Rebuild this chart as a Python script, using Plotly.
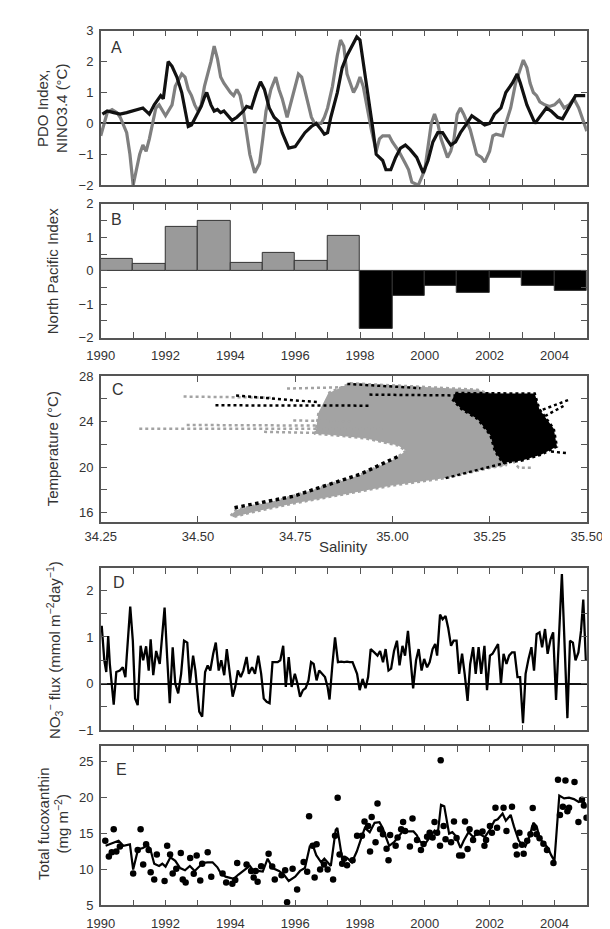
import plotly.graph_objects as go

# ---------------- Panel A: PDO index (black) and NINO3.4 (gray) ----------------
a_black_years = [1990.05,1990.2,1990.4,1990.6,1990.8,1991.0,1991.2,1991.3,1991.4,1991.5,1991.65,1991.85,1991.93,
    1992.0,1992.08,1992.2,1992.35,1992.5,1992.6,1992.7,1992.8,1992.9,1993.0,1993.1,1993.2,1993.27,1993.4,1993.5,
    1993.6,1993.7,1993.8,1993.95,1994.05,1994.2,1994.4,1994.5,1994.65,1994.8,1994.93,1995.05,1995.2,1995.35,1995.5,
    1995.6,1995.7,1995.8,1996.0,1996.1,1996.3,1996.5,1996.65,1996.8,1996.9,1997.0,1997.1,1997.3,1997.45,1997.6,
    1997.75,1997.9,1998.0,1998.1,1998.2,1998.3,1998.4,1998.5,1998.6,1998.7,1998.8,1998.95,1999.1,1999.25,1999.4,
    1999.55,1999.75,1999.95,2000.1,2000.25,2000.4,2000.55,2000.7,2000.8,2000.95,2001.1,2001.3,2001.45,2001.65,
    2001.85,2002.0,2002.15,2002.35,2002.5,2002.7,2002.85,2002.95,2003.15,2003.4,2003.6,2003.75,2003.9,2004.1,
    2004.25,2004.45,2004.65,2004.95]
a_black = [0.3,0.4,0.35,0.3,0.35,0.4,0.45,0.5,0.4,0.3,0.6,0.9,0.8,
    1.3,2.0,1.85,1.5,1.0,0.5,-0.1,-0.05,0.15,0.3,0.55,0.85,1.0,0.6,0.4,
    0.45,0.35,0.4,0.2,0.1,0.2,0.4,0.55,0.5,1.0,1.35,1.1,0.5,0.2,0.05,
    -0.3,-0.55,-0.8,-0.75,-0.6,-0.3,-0.1,0.0,-0.2,-0.35,-0.3,0.2,1.0,1.8,2.2,
    2.5,2.8,2.7,2.0,1.2,0.5,-0.2,-1.0,-1.1,-1.2,-1.5,-1.5,-1.1,-0.8,-0.7,
    -0.85,-1.1,-1.6,-1.2,-0.6,-0.3,-0.3,-0.55,-0.7,-0.6,-0.3,0.0,0.25,0.1,
    -0.05,0.0,0.3,0.5,1.0,1.3,1.6,1.3,0.6,0.0,0.3,0.5,0.4,0.2,
    0.15,0.5,0.9,0.9]

a_gray_years = [1990.0,1990.1,1990.2,1990.35,1990.5,1990.6,1990.8,1990.9,1991.0,1991.1,1991.2,1991.3,1991.4,1991.5,
    1991.6,1991.7,1991.8,1991.9,1992.0,1992.2,1992.3,1992.5,1992.6,1992.7,1992.8,1992.9,1993.0,1993.1,1993.2,
    1993.4,1993.5,1993.6,1993.7,1993.8,1994.0,1994.1,1994.2,1994.3,1994.4,1994.5,1994.6,1994.75,1994.9,1995.0,
    1995.1,1995.25,1995.4,1995.5,1995.6,1995.75,1995.85,1996.0,1996.1,1996.2,1996.35,1996.5,1996.6,1996.8,
    1996.9,1997.0,1997.15,1997.3,1997.4,1997.5,1997.6,1997.8,1997.9,1998.0,1998.1,1998.2,1998.35,1998.5,1998.6,
    1998.7,1998.9,1999.0,1999.2,1999.4,1999.5,1999.6,1999.8,2000.0,2000.1,2000.2,2000.3,2000.4,2000.5,2000.6,
    2000.7,2000.8,2000.9,2001.0,2001.1,2001.2,2001.4,2001.5,2001.6,2001.75,2001.85,2002.0,2002.1,2002.2,2002.4,
    2002.5,2002.65,2002.8,2002.95,2003.04,2003.15,2003.25,2003.35,2003.45,2003.55,2003.7,2003.85,2004.0,2004.15,
    2004.3,2004.45,2004.6,2004.75,2004.9,2005.0]
a_gray = [-0.4,0.0,0.35,0.45,0.35,0.2,-0.3,-1.0,-2.0,-1.5,-1.0,-0.7,-0.9,-0.5,
    0.0,0.5,0.6,0.4,0.25,0.6,1.2,1.6,1.5,1.1,0.9,0.6,0.4,0.6,1.2,
    2.0,2.5,2.1,1.5,1.3,1.0,0.9,1.1,0.9,0.4,-0.3,-1.0,-1.6,-1.3,-0.5,
    0.4,1.1,1.5,1.1,0.8,0.2,0.6,1.2,1.6,1.5,0.8,0.2,0.0,0.0,
    0.2,0.5,1.2,2.2,2.7,2.5,1.6,1.0,1.2,1.5,1.2,0.6,-0.2,-0.9,-0.5,
    -0.4,-0.4,-0.6,-0.9,-1.3,-1.5,-1.9,-2.0,-1.5,-0.8,0.0,0.3,0.0,-0.5,-0.8,
    -1.1,-0.9,-0.5,0.3,0.5,0.3,-0.2,-0.6,-1.0,-1.1,-1.25,-0.9,-0.4,-0.35,-0.4,
    0.0,0.5,1.3,1.8,2.05,1.8,1.3,1.0,0.9,0.7,0.6,0.55,0.6,0.75,
    0.5,0.6,0.8,0.5,0.0,-0.25]

# ---------------- Panel B: North Pacific Index (annual) ----------------
b_years = list(range(1990, 2005))
b_npi = [0.35, 0.2, 1.3, 1.5, 0.25, 0.55, 0.3, 1.05, -1.75, -0.75, -0.45, -0.65, -0.2, -0.45, -0.6]

# ---------------- Panel C: T-S diagram (cloud outlines and streaks) ----------------
c_gray_cloud_s = [34.835,34.892,35.056,35.219,35.268,35.284,35.30,35.292,35.252,35.137,34.998,34.892,34.745,34.647,
    34.59,34.586,34.598,34.729,34.81,34.917,35.007,35.035,35.015,34.933,34.851,34.802,34.81]
c_gray_cloud_t = [26.5,27.37,27.09,26.8,26.23,23.94,21.37,20.17,19.94,19.03,18.37,17.71,16.8,16.09,
    15.6,15.8,16.23,17.29,18.17,19.31,20.74,21.43,21.89,22.51,22.8,22.94,24.8]
c_black_cloud_s = [35.162,35.366,35.378,35.415,35.423,35.382,35.333,35.284,35.264,35.252,35.219,35.178,35.154]
c_black_cloud_t = [26.51,26.46,25.09,23.37,21.8,21.09,20.57,20.37,21.37,22.8,24.23,25.09,25.94]

c_gray_streaks_s = [[34.349, 34.974], [34.471, 34.81], [34.67, 34.81], [34.463, 34.696], [34.729, 34.974],
                    [34.745, 34.892], [35.30, 35.325, 35.358]]
c_gray_streaks_t = [[23.37, 23.37], [23.7, 23.65], [23.1, 23.0], [26.2, 26.1], [26.9, 27.1],
                    [24.1, 24.0], [20.94, 19.94, 19.94]]
c_black_streaks_s = [[34.545, 34.941], [34.598, 34.81], [34.884, 35.072], [34.941, 35.366],
                     [34.594, 34.663, 34.745, 34.81, 34.917, 35.015], [35.137, 35.30],
                     [35.30, 35.456], [35.325, 35.44], [35.382, 35.407, 35.448]]
c_black_streaks_t = [[25.43, 25.4], [26.29, 25.7], [27.31, 26.94], [26.37, 26.23],
                     [16.43, 16.86, 17.43, 18.17, 19.37, 20.94], [19.03, 20.46],
                     [23.94, 25.94], [23.23, 25.37], [21.94, 21.37, 21.23]]

# ---------------- Panel D: NO3- flux ----------------
d_years = [1990.03,1990.11,1990.17,1990.23,1990.28,1990.40,1990.48,1990.59,1990.68,1990.76,1990.80,1990.91,1990.99,
    1991.06,1991.14,1991.23,1991.31,1991.40,1991.48,1991.54,1991.62,1991.71,1991.82,1991.97,1992.05,1992.13,
    1992.22,1992.30,1992.39,1992.48,1992.57,1992.67,1992.75,1992.85,1992.92,1993.04,1993.13,1993.22,1993.30,
    1993.38,1993.47,1993.55,1993.64,1993.72,1993.81,1993.89,1994.07,1994.15,1994.23,1994.32,1994.40,1994.50,
    1994.57,1994.67,1994.76,1994.86,1994.95,1995.03,1995.12,1995.21,1995.30,1995.46,1995.54,1995.63,1995.71,
    1995.80,1995.89,1995.99,1996.07,1996.15,1996.24,1996.32,1996.41,1996.49,1996.57,1996.66,1996.74,1996.83,
    1996.92,1997.00,1997.06,1997.15,1997.23,1997.32,1997.42,1997.51,1997.60,1997.68,1997.77,1997.91,1997.99,
    1998.08,1998.17,1998.25,1998.33,1998.44,1998.54,1998.62,1998.71,1998.79,1998.88,1998.96,1999.05,1999.14,
    1999.22,1999.31,1999.39,1999.48,1999.56,1999.64,1999.73,1999.81,1999.90,1999.98,2000.07,2000.15,2000.24,
    2000.32,2000.38,2000.47,2000.55,2000.64,2000.72,2000.81,2000.89,2000.98,2001.06,2001.15,2001.23,2001.32,
    2001.40,2001.49,2001.57,2001.66,2001.74,2001.84,2001.92,2002.01,2002.09,2002.18,2002.26,2002.35,2002.43,
    2002.52,2002.60,2002.69,2002.77,2002.86,2002.94,2003.03,2003.11,2003.20,2003.29,2003.37,2003.45,2003.54,
    2003.62,2003.71,2003.79,2003.88,2003.96,2004.05,2004.23,2004.40,2004.48,2004.57,2004.65,2004.74,2004.82,
    2004.89,2004.97]
d_flux = [1.24,0.5,0.25,1.02,0.42,-0.45,0.25,0.28,0.35,0.14,0.56,1.65,0.92,
    -0.32,-0.46,0.81,0.5,0.8,0.28,0.95,0.18,0.7,0.42,1.63,0.56,-0.42,
    0.78,0.0,-0.21,0.21,0.92,0.88,0.0,0.6,0.28,-0.6,-0.71,0.25,0.39,
    0.28,0.64,0.88,0.28,0.5,0.18,0.74,-0.28,-0.07,0.28,0.14,0.28,0.57,
    0.21,0.35,0.21,0.6,0.21,-0.32,-0.39,-0.42,0.46,0.46,0.5,0.81,-0.07,
    0.57,-0.07,0.21,0.0,-0.28,-0.14,-0.1,0.07,0.46,0.42,0.07,0.28,0.21,
    0.14,-0.07,-0.34,0.42,0.99,0.46,0.47,0.46,0.47,0.46,0.46,0.21,-0.14,
    0.1,-0.1,0.14,0.74,0.67,0.6,0.7,0.46,0.74,0.28,0.32,0.7,0.92,
    0.39,0.81,0.6,1.13,0.42,-0.1,0.5,0.74,0.28,0.53,0.35,0.46,0.74,
    0.85,0.6,1.48,1.38,1.45,1.2,0.81,0.92,0.92,0.21,0.64,0.21,-0.37,
    0.42,0.78,0.21,0.78,0.21,0.81,-0.14,0.6,0.64,0.74,0.85,0.0,0.64,
    0.42,0.6,0.67,0.67,0.14,0.14,-0.85,0.21,0.53,0.78,0.28,1.06,1.1,
    0.78,1.17,0.64,0.95,1.1,-0.35,2.35,-0.74,0.92,0.88,0.5,0.67,1.13,
    1.8,0.5]

# ---------------- Panel E: total fucoxanthin ----------------
e_dot_years = [1990.14,1990.25,1990.34,1990.40,1990.48,1990.59,1991.0,1991.14,1991.23,1991.31,1991.40,1991.48,
    1991.54,1991.65,1991.73,1991.97,1992.05,1992.14,1992.22,1992.33,1992.47,1992.53,1992.62,1992.76,1992.87,
    1992.96,1993.07,1993.13,1993.30,1993.41,1993.76,1993.87,1994.06,1994.15,1994.21,1994.50,1994.64,1994.72,
    1994.78,1994.84,1994.95,1995.18,1995.29,1995.37,1995.58,1995.69,1995.75,1995.92,1996.06,1996.26,1996.37,
    1996.43,1996.54,1996.60,1996.66,1996.77,1996.89,1997.00,1997.17,1997.23,1997.31,1997.37,1997.45,1997.51,
    1997.60,1997.77,1997.91,1998.06,1998.14,1998.25,1998.31,1998.36,1998.48,1998.54,1998.62,1998.71,1998.82,
    1998.88,1998.93,1999.10,1999.16,1999.27,1999.33,1999.39,1999.54,1999.62,1999.76,1999.88,1999.96,2000.07,
    2000.15,2000.24,2000.30,2000.38,2000.47,2000.49,2000.58,2000.64,2000.81,2000.90,2000.98,2001.06,2001.15,
    2001.24,2001.32,2001.38,2001.49,2001.61,2001.78,2001.84,2001.89,2002.01,2002.07,2002.18,2002.23,2002.43,
    2002.52,2002.69,2002.80,2002.84,2002.92,2003.00,2003.05,2003.16,2003.26,2003.33,2003.37,2003.45,2003.54,
    2003.66,2003.77,2003.97,2004.11,2004.17,2004.26,2004.34,2004.40,2004.45,2004.62,2004.74,2004.85,2004.91,
    2004.99]
e_dots = [14.0,11.8,12.4,15.6,12.5,13.2,9.45,12.7,15.6,10.7,13.5,12.7,
    9.6,8.6,12.1,8.4,13.3,12.1,9.45,10.1,12.3,8.6,8.2,11.6,9.4,
    11.95,8.45,10.8,12.4,9.0,9.45,8.2,8.0,8.55,10.9,10.7,9.8,8.9,
    9.8,8.3,10.45,12.2,10.4,8.6,9.2,9.9,5.45,10.1,7.2,11.05,9.7,
    17.4,13.3,8.9,13.5,10.0,10.7,10.0,8.6,14.7,20.0,12.1,10.8,11.5,
    10.6,11.3,14.7,14.7,16.7,16.05,12.5,17.3,13.8,19.2,15.6,14.9,12.9,
    11.3,14.8,13.3,14.45,15.6,16.6,15.35,13.2,17.1,14.1,12.7,13.55,14.55,
    15.1,14.45,16.6,15.1,13.3,25.2,16.05,14.2,13.8,16.7,14.4,11.95,11.95,
    16.7,12.85,15.6,14.1,15.1,15.3,13.3,14.1,16.05,15.1,18.6,15.8,18.6,
    15.35,18.75,13.3,12.1,15.1,13.45,12.2,14.0,14.9,18.55,15.8,14.9,14.35,
    13.6,12.7,10.9,22.5,17.6,18.75,22.4,18.1,18.6,22.2,16.6,19.7,18.9,
    17.2]
e_line_years = [1990.15,1990.4,1990.55,1990.7,1990.9,1991.0,1991.15,1991.3,1991.45,1991.55,1991.65,1991.8,1991.9,
    1992.0,1992.15,1992.3,1992.45,1992.6,1992.75,1992.9,1993.0,1993.15,1993.3,1993.45,1993.6,1993.7,1993.85,
    1994.0,1994.1,1994.25,1994.45,1994.6,1994.75,1994.85,1995.0,1995.15,1995.3,1995.5,1995.65,1995.8,1996.0,
    1996.15,1996.3,1996.45,1996.55,1996.65,1996.8,1996.9,1997.0,1997.1,1997.25,1997.3,1997.45,1997.6,1997.75,
    1997.9,1998.05,1998.15,1998.3,1998.45,1998.6,1998.7,1998.8,1998.9,1999.05,1999.2,1999.35,1999.5,1999.65,
    1999.75,1999.85,2000.0,2000.15,2000.3,2000.4,2000.5,2000.6,2000.75,2000.85,2000.95,2001.1,2001.2,2001.35,
    2001.5,2001.6,2001.75,2001.85,2002.0,2002.15,2002.25,2002.4,2002.5,2002.65,2002.75,2002.9,2003.0,2003.1,
    2003.2,2003.35,2003.45,2003.55,2003.7,2003.8,2003.9,2004.0,2004.15,2004.3,2004.45,2004.6,2004.75,2004.85,
    2004.95]
e_line = [13.3,13.8,14.0,13.3,13.5,10.0,12.8,13.0,13.4,12.5,10.8,10.5,10.8,
    10.4,11.7,11.2,10.2,9.9,10.5,9.8,10.3,10.9,11.0,11.0,10.3,9.5,9.0,
    8.8,8.7,9.3,10.0,10.5,9.6,9.8,9.7,11.5,10.2,9.8,9.3,8.4,9.0,
    9.8,10.2,13.2,13.3,12.0,11.0,11.5,11.0,10.5,15.5,15.8,11.5,11.6,11.0,
    12.5,14.5,15.8,15.2,16.5,16.6,15.8,14.5,13.3,13.8,14.6,15.5,15.3,15.3,
    14.8,13.9,13.5,14.5,15.4,15.0,19.0,18.8,15.0,15.2,14.7,13.0,14.0,15.2,
    14.5,15.0,14.8,14.5,15.5,16.8,17.0,17.8,16.8,17.6,16.0,14.0,13.5,13.2,
    14.2,16.5,16.0,14.3,13.5,13.0,12.0,11.2,20.3,19.9,20.0,19.8,19.4,19.6,
    19.2]

# ---------------- figure ----------------
W, H = 610, 929
FONT = "Liberation Sans, Arial, Helvetica, sans-serif"
AX = "#555555"
TXT = "#333333"

def px_dom(top, bottom):
    return [1 - bottom / H, 1 - top / H]

XDOM = [81 / W, 594 / W]
DOMS = [px_dom(16, 173), px_dom(192, 328), px_dom(367, 515), px_dom(562, 727), px_dom(743, 905)]

fig = go.Figure()

# Panel A
fig.add_trace(go.Scatter(x=a_gray_years, y=a_gray, mode="lines", line=dict(color="#7f7f7f", width=3.2),
                         xaxis="x", yaxis="y", showlegend=False))
fig.add_trace(go.Scatter(x=a_black_years, y=a_black, mode="lines", line=dict(color="#111111", width=3.2),
                         xaxis="x", yaxis="y", showlegend=False))

# Panel B
b_colors = ["#9a9a9a" if v >= 0 else "#000000" for v in b_npi]
fig.add_trace(go.Bar(x=[y + 0.5 for y in b_years], y=b_npi, width=1.0, marker=dict(color=b_colors,
                     line=dict(color="#333333", width=1)), xaxis="x2", yaxis="y2", showlegend=False))

# Panel C
fig.add_trace(go.Scatter(x=c_gray_cloud_s, y=c_gray_cloud_t, mode="lines", fill="toself",
                         fillcolor="#a3a3a3", line=dict(color="#a3a3a3", width=2.5, dash="dot"),
                         xaxis="x3", yaxis="y3", showlegend=False))
for s, t in zip(c_gray_streaks_s, c_gray_streaks_t):
    fig.add_trace(go.Scatter(x=s, y=t, mode="lines", line=dict(color="#a3a3a3", width=2.5, dash="dot"),
                             xaxis="x3", yaxis="y3", showlegend=False))
fig.add_trace(go.Scatter(x=c_black_cloud_s, y=c_black_cloud_t, mode="lines", fill="toself",
                         fillcolor="#000000", line=dict(color="#000000", width=2.5, dash="dot"),
                         xaxis="x3", yaxis="y3", showlegend=False))
for i, (s, t) in enumerate(zip(c_black_streaks_s, c_black_streaks_t)):
    fig.add_trace(go.Scatter(x=s, y=t, mode="lines",
                             line=dict(color="#000000", width=3.5 if i == 4 else 2.5, dash="dot"),
                             xaxis="x3", yaxis="y3", showlegend=False))

# Panel D
fig.add_trace(go.Scatter(x=d_years, y=d_flux, mode="lines", line=dict(color="#000000", width=2.3),
                         xaxis="x4", yaxis="y4", showlegend=False))

# Panel E
fig.add_trace(go.Scatter(x=e_line_years, y=e_line, mode="lines", line=dict(color="#000000", width=2.2),
                         xaxis="x5", yaxis="y5", showlegend=False))
fig.add_trace(go.Scatter(x=e_dot_years, y=e_dots, mode="markers", marker=dict(color="#000000", size=6.5),
                         xaxis="x5", yaxis="y5", showlegend=False))

tickfont = dict(family=FONT, size=13, color=TXT)
common = dict(showline=True, linecolor=AX, linewidth=1.5, mirror="allticks", ticks="inside",
              ticklen=6, tickcolor=AX, tickwidth=1, showgrid=False, zeroline=False, tickfont=tickfont)

def time_x(anchor, labels):
    return dict(common, domain=XDOM, anchor=anchor, range=[1990, 2005], tick0=1990, dtick=2,
                showticklabels=labels, ticklabelstandoff=5,
                minor=dict(dtick=1, tick0=1990, ticks="inside", ticklen=6, tickcolor=AX, showgrid=False))

layout = dict(
    width=W, height=H, margin=dict(l=0, r=0, t=0, b=0),
    paper_bgcolor="white", plot_bgcolor="white", showlegend=False, bargap=0,
    font=dict(family=FONT, color=TXT),
    xaxis=time_x("y", False),
    yaxis=dict(common, domain=DOMS[0], anchor="x", range=[-2, 3], dtick=1, tick0=0, ticklabelstandoff=3,
               zeroline=True, zerolinecolor="#111111", zerolinewidth=1.5),
    xaxis2=time_x("y2", True),
    yaxis2=dict(common, domain=DOMS[1], anchor="x2", range=[-2, 2], dtick=1, tick0=0, ticklabelstandoff=3,
                minor=dict(dtick=0.5, ticks="inside", ticklen=6, tickcolor=AX, showgrid=False)),
    xaxis3=dict(common, domain=XDOM, anchor="y3", range=[34.25, 35.5], tick0=34.25, dtick=0.25,
                tickformat=".2f", ticklabelstandoff=2, ticklabeloverflow="allow"),
    yaxis3=dict(common, domain=DOMS[2], anchor="x3", range=[15.2, 28], tick0=16, dtick=4, ticklabelstandoff=3,
                minor=dict(dtick=2, tick0=16, ticks="inside", ticklen=6, tickcolor=AX, showgrid=False)),
    xaxis4=time_x("y4", False),
    yaxis4=dict(common, domain=DOMS[3], anchor="x4", range=[-1, 2.48], dtick=1, tick0=0, ticklabelstandoff=3,
                zeroline=True, zerolinecolor="#111111", zerolinewidth=1.5,
                minor=dict(dtick=0.5, ticks="inside", ticklen=6, tickcolor=AX, showgrid=False)),
    xaxis5=time_x("y5", True),
    yaxis5=dict(common, domain=DOMS[4], anchor="x5", range=[5, 27.2], dtick=5, tick0=5, ticklabelstandoff=3),
)
fig.update_layout(**layout)

def ann(text, x, y, size=13, angle=0):
    fig.add_annotation(text=text, x=x / W, y=1 - y / H, xref="paper", yref="paper", showarrow=False,
                       textangle=angle, font=dict(family=FONT, size=size, color=TXT),
                       xanchor="center", yanchor="middle")

# panel letters
for letter, (lx, ly) in zip("ABCDE", [(98, 33), (98, 208), (99, 381), (100, 577), (103, 767)]):
    ann(letter, lx, ly, size=16)

# axis titles
ann("PDO Index,<br>NINO3.4 (°C)", 30, 95, size=15, angle=-90)
ann("North Pacific Index", 30, 260, size=15, angle=-90)
ann("Temperature (°C)", 30, 441, size=15, angle=-90)
ann("NO<sub>3</sub><sup>−</sup> flux (mmol m<sup>−2</sup>day<sup>−1</sup>)", 32, 645, size=15, angle=-90)
ann("Total fucoxanthin<br>(mg m<sup>−2</sup>)", 31, 822, size=15, angle=-90)
ann("Salinity", 337, 540, size=15)

fig.write_html("out.html")
